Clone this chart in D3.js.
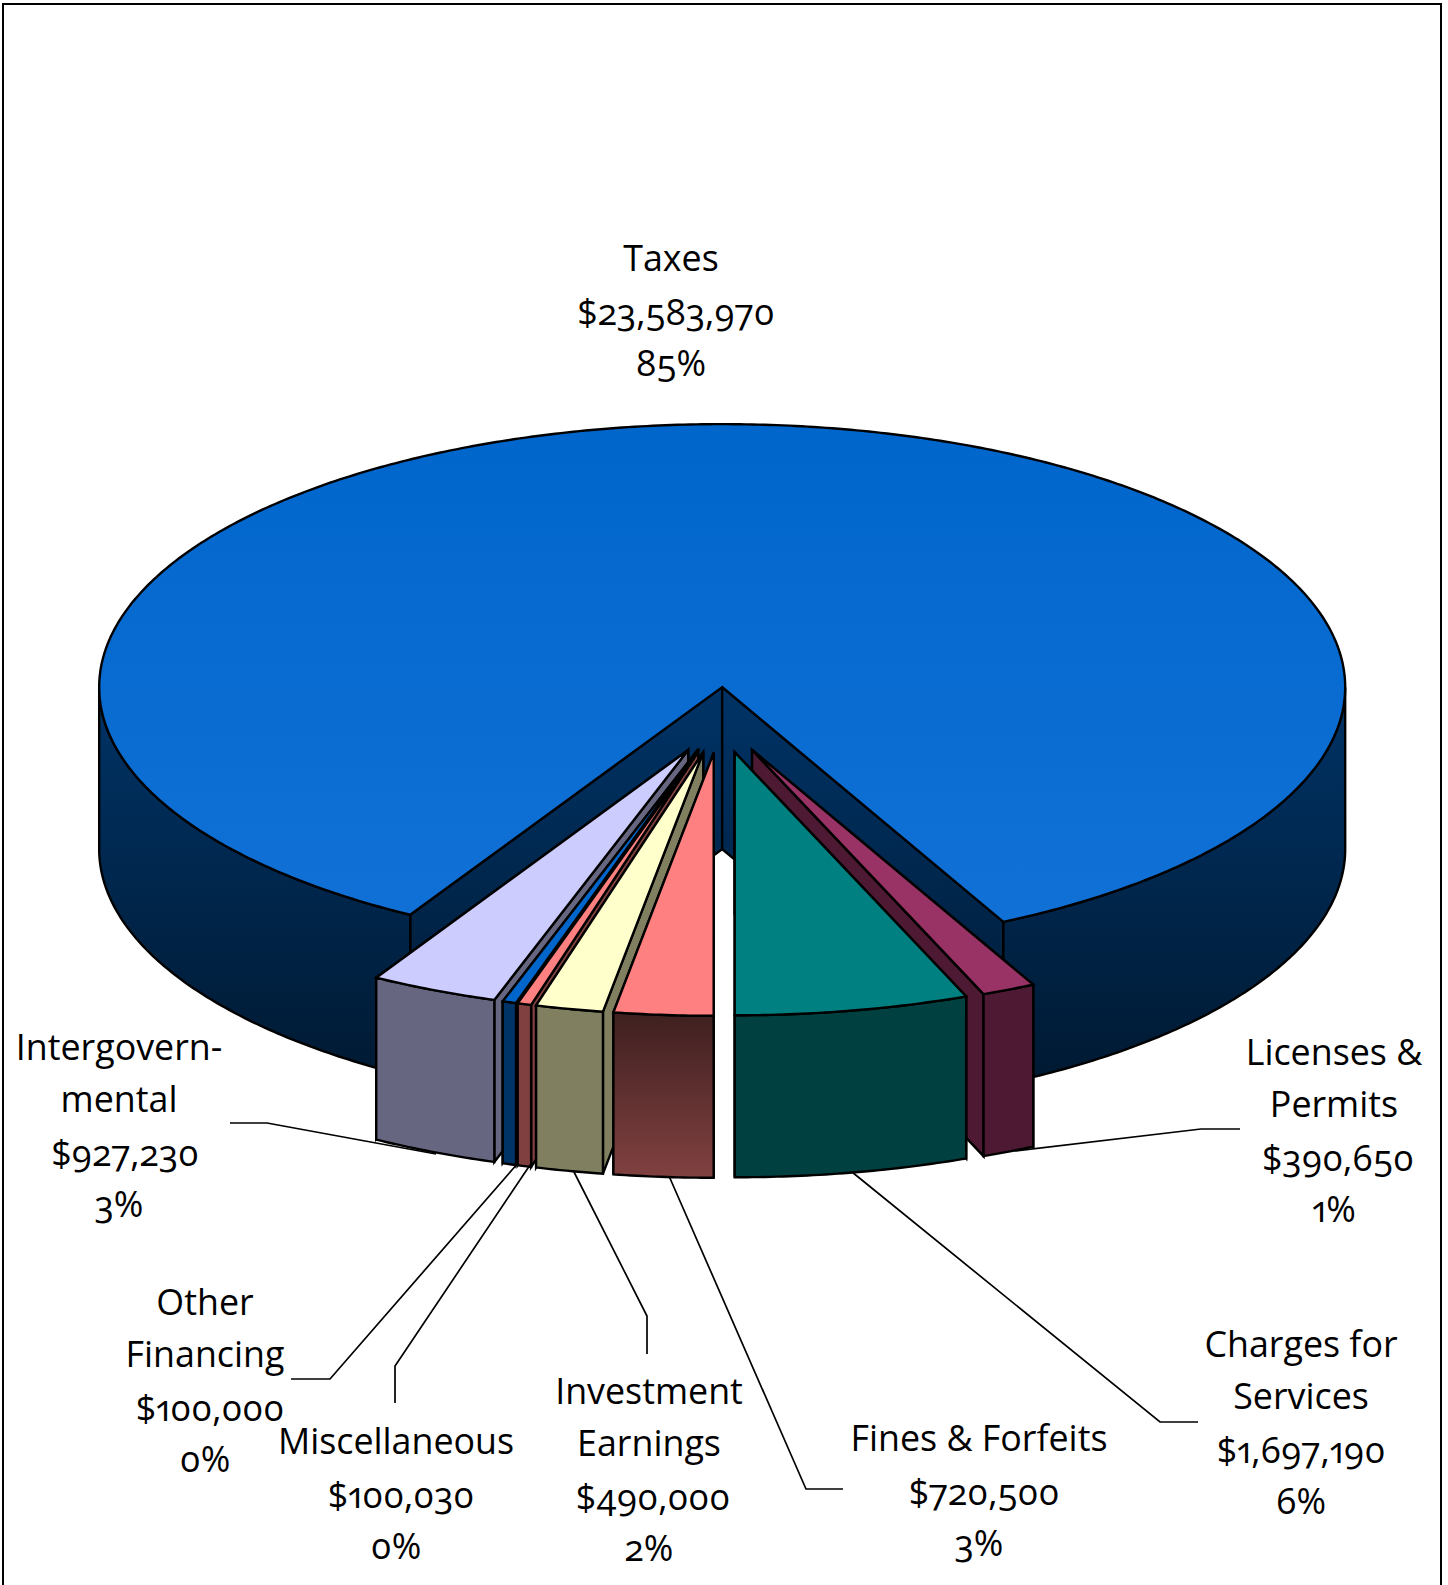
<!DOCTYPE html>
<html>
<head>
<meta charset="utf-8">
<script src="https://cdn.jsdelivr.net/npm/d3@7/dist/d3.min.js"></script>
<style>
  html, body { margin: 0; padding: 0; background: #fff; overflow: hidden; }
  svg { display: block; }
  text {
    font-family: "Open Sans", Lato, sans-serif;
    font-size: 35.8px;
    fill: #000;
    text-anchor: middle;
    font-feature-settings: "onum" 1, "pnum" 1;
    font-variant-numeric: oldstyle-nums proportional-nums;
  }
</style>
</head>
<body>
<svg id="chart" width="1448" height="1585"></svg>
<script>
// Revenue sources, clockwise from the right-hand edge of the gap in the Taxes slice.
const categories = ["Licenses & Permits", "Charges for Services", "Fines & Forfeits", "Investment Earnings",
  "Miscellaneous", "Other Financing", "Intergovernmental", "Taxes"];
const revenue = [390650, 1697190, 720500, 490000, 100030, 100000, 927230, 23583970];
const percentLabels = ["1%", "6%", "3%", "2%", "0%", "0%", "3%", "85%"];
const nameLines = [["Licenses &", "Permits"], ["Charges for", "Services"], ["Fines & Forfeits"], ["Investment", "Earnings"],
  ["Miscellaneous"], ["Other", "Financing"], ["Intergovern-", "mental"], ["Taxes"]];

const topColors = ["#993366", "#008080", "#FF8080", "#FFFFCC", "#FF8080", "#0066CC", "#CCCCFF", "url(#taxTop)"];
const sideColors = ["#4D1933", "#004040", "url(#fineSide)", "#808060", "#804040", "#003366", "#666680", "url(#taxSide)"];

// Label anchors and leader routes, in page pixels; moneyDx nudges the dollar line sideways.
const labelPlacement = [
  { x: 1334, y: 1065, moneyDx: 4, leader: [[1240, 1129], [1201, 1129], [1015, 1151]] },
  { x: 1301, y: 1357, moneyDx: 0, leader: [[1198, 1422], [1160, 1422], [852, 1172]] },
  { x: 979,  y: 1451, moneyDx: 5, leader: [[843, 1489], [806, 1489], [669, 1176]] },
  { x: 649,  y: 1404, moneyDx: 4, leader: [[647, 1354], [647, 1316], [574, 1172]] },
  { x: 396,  y: 1454, moneyDx: 5, leader: [[395, 1403], [395, 1366], [530, 1165]] },
  { x: 205,  y: 1315, moneyDx: 5, leader: [[291, 1379], [330, 1379], [518, 1163]] },
  { x: 119,  y: 1060, moneyDx: 6, leader: [[230, 1123], [267, 1123], [436, 1154]] },
  { x: 671,  y: 271,  moneyDx: 5, leader: null }
];

// Pie projection: a flattened disc with every slice pushed out along its bisector.
const centerX = 720, centerY = 720;
const radiusX = 623, radiusY = 263, depth = 162, explode = 0.125;
const gapEdge = 153.17 * Math.PI / 180;

const svg = d3.select("#chart");
const defs = svg.append("defs");

function verticalGradient(id, y1, y2, from, to) {
  const g = defs.append("linearGradient").attr("id", id)
    .attr("gradientUnits", "userSpaceOnUse")
    .attr("x1", 0).attr("x2", 0).attr("y1", y1).attr("y2", y2);
  g.append("stop").attr("offset", 0).attr("stop-color", from);
  g.append("stop").attr("offset", 1).attr("stop-color", to);
}
verticalGradient("taxTop", 423, 950, "#0066CC", "#1271D6");
verticalGradient("taxSide", 690, 1075, "#003366", "#001A33");
verticalGradient("fineSide", 1015, 1175, "#402020", "#804040");

// Page frame, open at the bottom edge of the page.
svg.append("path")
  .attr("d", d3.line()([[3, 1585], [3, 4], [1441, 4], [1441, 1585]]))
  .attr("fill", "none").attr("stroke", "#000").attr("stroke-width", 2);

const slices = d3.pie().sort(null).value(d => d)
  .startAngle(gapEdge).endAngle(gapEdge + 2 * Math.PI)(revenue);

function project(s) {
  const mid = (s.startAngle + s.endAngle) / 2;
  const ox = centerX + explode * radiusX * Math.sin(mid);
  const oy = centerY - explode * radiusY * Math.cos(mid);
  return (angle, r, z) => [ox + r * radiusX * Math.sin(angle), oy - r * radiusY * Math.cos(angle) + z];
}

const closed = d3.line().curve(d3.curveLinearClosed);

function arcSamples(a0, a1) {
  const n = Math.max(2, Math.ceil((a1 - a0) / 0.01));
  return d3.range(n + 1).map(i => a0 + (a1 - a0) * i / n);
}

// Front-facing stretches of the rim, in angles that run past a full turn.
function frontSpans(a0, a1) {
  const spans = [];
  [[Math.PI / 2, 3 * Math.PI / 2], [5 * Math.PI / 2, 7 * Math.PI / 2]].forEach(([lo, hi]) => {
    const from = Math.max(a0, lo), to = Math.min(a1, hi);
    if (to > from) spans.push([from, to]);
  });
  return spans;
}

function drawSlice(s) {
  const i = s.index, at = project(s);
  const g = svg.append("g").attr("class", "slice").attr("data-name", categories[i]);
  const shape = (points, fill) => g.append("path").attr("d", closed(points)).attr("fill", fill)
    .attr("stroke", "#000").attr("stroke-width", 2.4).attr("stroke-linejoin", "miter");
  // The cut face turned away from the viewer goes down first, so the visible one covers it.
  const mid = (s.startAngle + s.endAngle) / 2;
  const faces = Math.sin(mid) > 0 ? [s.startAngle, s.endAngle] : [s.endAngle, s.startAngle];
  faces.forEach(a => {
    shape([at(a, 0, 0), at(a, 1, 0), at(a, 1, depth), at(a, 0, depth)], sideColors[i]);
  });
  frontSpans(s.startAngle, s.endAngle).forEach(([a0, a1]) => {
    const angles = arcSamples(a0, a1);
    shape(angles.map(a => at(a, 1, 0)).concat(angles.slice().reverse().map(a => at(a, 1, depth))), sideColors[i]);
  });
  shape([at(0, 0, 0)].concat(arcSamples(s.startAngle, s.endAngle).map(a => at(a, 1, 0))), topColors[i]);
}

// Paint from the back: Taxes, then the outer slices inward to the two front ones.
[7, 6, 5, 4, 3, 0, 2, 1].forEach(i => drawSlice(slices[i]));

// Leader lines and labels.
const money = d3.format("$,");
const leaderLine = d3.line();
labelPlacement.forEach((place, i) => {
  if (place.leader) {
    svg.append("path").attr("d", leaderLine(place.leader))
      .attr("fill", "none").attr("stroke", "#000").attr("stroke-width", 1.7);
  }
  const label = svg.append("text");
  const nameCount = nameLines[i].length;
  const lines = nameLines[i].concat([money(revenue[i]), percentLabels[i]]);
  const steps = nameLines[i].map((_, k) => k === 0 ? 0 : 52).concat([54, 51]);
  lines.forEach((line, k) => {
    label.append("tspan")
      .attr("x", place.x + (k === nameCount ? place.moneyDx : 0))
      .attr("dy", steps[k]).text(line);
  });
  label.attr("y", place.y);
});
</script>
</body>
</html>
